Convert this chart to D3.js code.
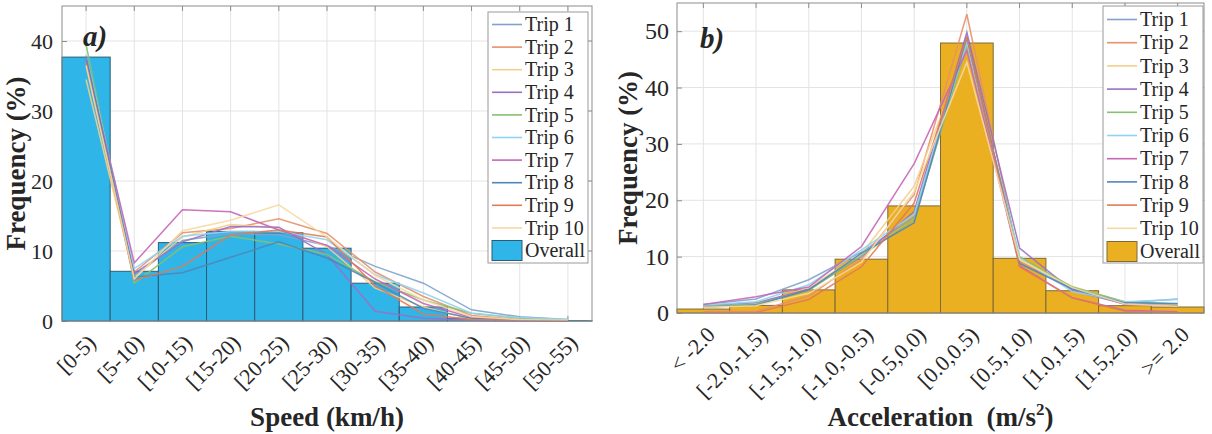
<!DOCTYPE html>
<html>
<head>
<meta charset="utf-8">
<script src="https://cdn.jsdelivr.net/npm/d3@7"></script>
<style>
  body { margin: 0; background: #fff; }
  svg { display: block; }
  text { font-family: "Liberation Serif", "Times New Roman", serif; fill: #262626; }
</style>
</head>
<body>
<svg id="chart" width="1212" height="434"></svg>
<script>
// ---------- Speed distribution (panel a) ----------
const speedBins = ["[0-5)", "[5-10)", "[10-15)", "[15-20)", "[20-25)", "[25-30)",
                   "[30-35)", "[35-40)", "[40-45)", "[45-50)", "[50-55)"];
const speedTicks = [0, 10, 20, 30, 40];
const speedOverall = [37.7, 7.1, 11.2, 12.8, 12.6, 10.4, 5.4, 2.0, 0.4, 0.2, 0.05];
const speedTrips = [
  [37.5, 6.5, 11.5, 12.5, 12.3, 10.8, 7.8, 5.4, 1.6, 0.6, 0.2],
  [37.0, 7.0, 12.6, 13.2, 14.6, 12.5, 7.0, 3.5, 0.8, 0.2, 0.1],
  [34.5, 6.2, 12.0, 13.8, 13.3, 10.6, 4.7, 2.0, 0.3, 0.1, 0.0],
  [37.3, 6.8, 11.3, 13.5, 13.4, 9.5, 1.4, 0.4, 0.1, 0.0, 0.0],
  [39.5, 5.4, 10.6, 12.1, 11.0, 9.5, 5.6, 3.0, 1.1, 0.4, 0.1],
  [38.0, 7.5, 12.1, 12.8, 12.8, 11.6, 6.6, 4.0, 1.1, 0.5, 0.2],
  [37.2, 8.3, 15.9, 15.6, 13.0, 10.8, 6.0, 2.5, 0.5, 0.1, 0.0],
  [37.8, 6.3, 6.9, 9.1, 11.3, 9.0, 5.5, 1.8, 0.4, 0.1, 0.0],
  [36.8, 5.8, 7.8, 12.3, 13.0, 12.0, 5.0, 1.0, 0.2, 0.1, 0.0],
  [36.5, 6.0, 12.9, 14.4, 16.6, 12.0, 6.5, 3.0, 0.6, 0.2, 0.1]
];

// ---------- Acceleration distribution (panel b) ----------
const accelBins = ["< -2.0", "[-2.0,-1.5)", "[-1.5,-1.0)", "[-1.0,-0.5)", "[-0.5,0.0)",
                   "[0.0,0.5)", "[0.5,1.0)", "[1.0,1.5)", "[1.5,2.0)", ">= 2.0"];
const accelTicks = [0, 10, 20, 30, 40, 50];
const accelOverall = [0.7, 1.35, 4.1, 9.55, 19.0, 47.9, 9.7, 3.95, 1.3, 1.06];
const accelTrips = [
  [1.5, 2.5, 5.9, 10.8, 17.0, 48.5, 9.0, 4.2, 1.8, 2.5],
  [0.2, 0.3, 3.0, 9.5, 21.0, 53.0, 9.0, 4.5, 1.5, 1.2],
  [1.0, 1.5, 4.5, 10.5, 22.5, 47.0, 9.5, 4.7, 1.9, 1.4],
  [1.3, 1.8, 4.2, 10.0, 18.0, 49.8, 11.5, 4.0, 1.6, 1.3],
  [1.2, 1.6, 4.0, 10.2, 16.5, 47.5, 10.0, 4.6, 2.0, 1.6],
  [1.4, 2.0, 5.0, 11.2, 17.5, 48.0, 9.8, 3.8, 2.0, 2.4],
  [1.5, 2.9, 4.6, 11.8, 26.5, 46.6, 8.4, 2.7, 0.5, 0.2],
  [1.0, 1.4, 4.1, 10.6, 16.0, 49.0, 8.8, 4.3, 1.8, 1.7],
  [0.1, 0.1, 2.4, 8.2, 19.5, 48.9, 8.2, 2.7, 0.3, 0.1],
  [1.0, 1.3, 3.5, 9.0, 21.5, 44.5, 9.5, 4.5, 1.6, 1.2]
];

const tripNames = ["Trip 1", "Trip 2", "Trip 3", "Trip 4", "Trip 5",
                   "Trip 6", "Trip 7", "Trip 8", "Trip 9", "Trip 10"];
const tripColors = ["#7fa3cc", "#e8906a", "#f2cf8a", "#9b6fc4", "#86c070",
                    "#8fd4f2", "#c666b8", "#4f86bb", "#e27a55", "#f5d9a0"];

const svg = d3.select("#chart");

function drawPanel(p) {
  const g = svg.append("g");
  const x = d3.scaleBand().domain(p.cats).range([p.left, p.right]).padding(0);
  const y = d3.scaleLinear().domain([0, p.yMax]).range([p.bottom, p.top]);
  const bw = x.bandwidth();
  const cx = c => x(c) + bw / 2;

  // grid
  g.append("g").selectAll("line").data(p.cats).join("line")
    .attr("x1", cx).attr("x2", cx).attr("y1", p.top).attr("y2", p.bottom)
    .attr("stroke", "#e3e3e3").attr("stroke-width", 1);
  g.append("g").selectAll("line").data(p.yTicks).join("line")
    .attr("x1", p.left).attr("x2", p.right).attr("y1", d => y(d)).attr("y2", d => y(d))
    .attr("stroke", "#e3e3e3").attr("stroke-width", 1);

  // y axis
  const ya = g.append("g").attr("transform", `translate(${p.left},0)`)
    .call(d3.axisLeft(y).tickValues(p.yTicks).tickSizeInner(-5).tickSizeOuter(0).tickPadding(p.yPad));
  ya.select(".domain").remove();
  ya.selectAll(".tick line").attr("stroke", "#8c8c8c");
  ya.selectAll(".tick text").attr("font-size", p.yFont).attr("fill", "#262626")
    .attr("font-family", "Liberation Serif");

  // x axis
  const xa = g.append("g").attr("transform", `translate(0,${p.bottom})`)
    .call(d3.axisBottom(x).tickSizeInner(-5).tickSizeOuter(0).tickPadding(0));
  xa.select(".domain").remove();
  xa.selectAll(".tick line").attr("stroke", "#8c8c8c");
  xa.selectAll(".tick text")
    .attr("font-size", p.xFont).attr("fill", "#262626").attr("font-family", "Liberation Serif")
    .attr("text-anchor", "end").attr("dy", 0)
    .attr("transform", `translate(${p.xLabDx},${p.xLabDy}) rotate(-45)`);

  // bars
  g.append("g").selectAll("rect").data(p.overall).join("rect")
    .attr("x", (d, i) => x(p.cats[i])).attr("width", bw)
    .attr("y", d => y(d)).attr("height", d => p.bottom - y(d))
    .attr("fill", p.fill).attr("stroke", p.edge).attr("stroke-width", 1);

  // trip lines
  const line = d3.line().x((d, i) => cx(p.cats[i])).y(d => y(d));
  g.append("g").selectAll("path").data(p.trips).join("path")
    .attr("d", line).attr("fill", "none")
    .attr("stroke", (d, i) => tripColors[i]).attr("stroke-width", 1.5)
    .attr("stroke-opacity", 0.9);

  // frame with top/right inner ticks
  g.append("rect").attr("x", p.left).attr("y", p.top)
    .attr("width", p.right - p.left).attr("height", p.bottom - p.top)
    .attr("fill", "none").attr("stroke", "#8c8c8c").attr("stroke-width", 1);
  g.append("g").selectAll("line").data(p.cats).join("line")
    .attr("x1", cx).attr("x2", cx).attr("y1", p.top).attr("y2", p.top + 5)
    .attr("stroke", "#8c8c8c");
  g.append("g").selectAll("line").data(p.yTicks).join("line")
    .attr("x1", p.right).attr("x2", p.right - 5).attr("y1", d => y(d)).attr("y2", d => y(d))
    .attr("stroke", "#8c8c8c");

  // axis titles
  g.append("text").attr("transform", `translate(${p.yTitleX},${(p.top + p.bottom) / 2}) rotate(-90)`)
    .attr("text-anchor", "middle").attr("font-size", 27).attr("font-weight", "bold")
    .text("Frequency (%)");
  const xt = g.append("text").attr("x", (p.left + p.right) / 2).attr("y", p.xTitleY)
    .attr("text-anchor", "middle").attr("font-size", 27).attr("font-weight", "bold")
    .style("white-space", "pre");
  p.xTitle(xt);

  // panel letter
  g.append("text").attr("x", p.letterX).attr("y", p.letterY)
    .attr("font-size", 29).attr("font-weight", "bold").attr("font-style", "italic")
    .attr("fill", "#000").text(p.letter);

  // legend
  const lg = g.append("g");
  lg.append("rect").attr("x", p.legX).attr("y", p.legTop)
    .attr("width", p.legW).attr("height", p.legBottom - p.legTop)
    .attr("fill", "#fff").attr("stroke", "#9a9a9a").attr("stroke-width", 1);
  const rowY = i => p.legFirst + i * p.legStep;
  lg.selectAll("line").data(tripNames).join("line")
    .attr("x1", p.legX + 4).attr("x2", p.legX + 34)
    .attr("y1", (d, i) => rowY(i)).attr("y2", (d, i) => rowY(i))
    .attr("stroke", (d, i) => tripColors[i]).attr("stroke-width", 1.6);
  lg.selectAll("text").data(tripNames.concat(["Overall"])).join("text")
    .attr("x", p.legX + 37).attr("y", (d, i) => rowY(i)).attr("dy", "0.33em")
    .attr("font-size", 20).text(d => d);
  lg.append("rect").attr("x", p.legX + 4).attr("y", rowY(10) - 10)
    .attr("width", 30).attr("height", 20)
    .attr("fill", p.fill).attr("stroke", p.edge).attr("stroke-width", 1);
}

drawPanel({
  cats: speedBins, overall: speedOverall, trips: speedTrips, yTicks: speedTicks, yMax: 45,
  left: 62, right: 592, top: 6, bottom: 321,
  fill: "#30b5e8", edge: "#2b5d78",
  yFont: 22, yPad: 9, xFont: 22, xLabDx: 11, xLabDy: 23,
  yTitleX: 25, xTitleY: 426,
  xTitle: t => t.text("Speed (km/h)"),
  letter: "a)", letterX: 83, letterY: 46,
  legX: 488, legW: 100, legTop: 12, legBottom: 263, legFirst: 24.5, legStep: 22.6
});

drawPanel({
  cats: accelBins, overall: accelOverall, trips: accelTrips, yTicks: accelTicks, yMax: 55,
  left: 677, right: 1204, top: 3, bottom: 313,
  fill: "#ebb022", edge: "#7d6a36",
  yFont: 24, yPad: 8, xFont: 22, xLabDx: 13, xLabDy: 23,
  yTitleX: 637, xTitleY: 426,
  xTitle: t => {
    t.append("tspan").text("Acceleration  (m/s");
    t.append("tspan").attr("font-size", 17).attr("dy", -11).text("2");
    t.append("tspan").attr("dy", 11).text(")");
  },
  letter: "b)", letterX: 700, letterY: 48,
  legX: 1103, legW: 100, legTop: 6, legBottom: 263, legFirst: 19.5, legStep: 23.2
});
</script>
</body>
</html>
